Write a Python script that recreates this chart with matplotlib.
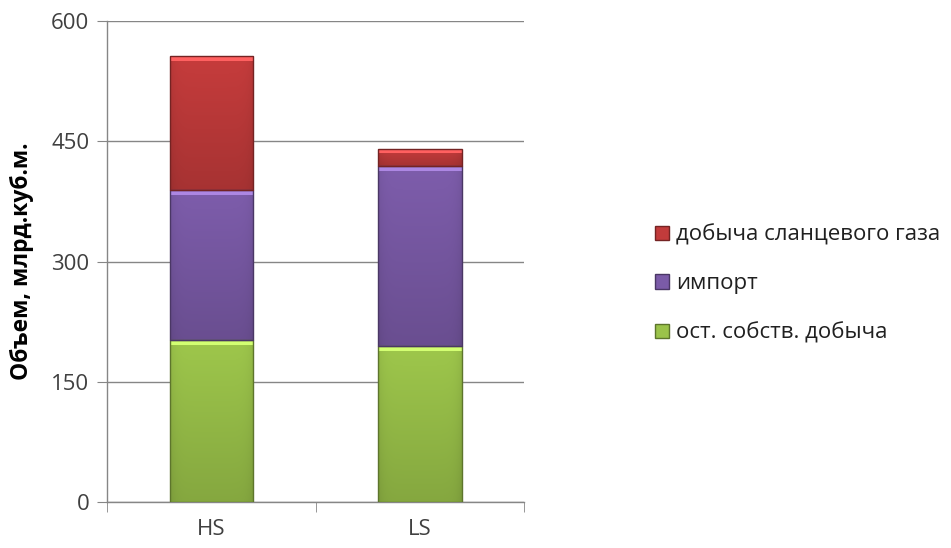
import numpy as np
import matplotlib
matplotlib.use("Agg")
import matplotlib.pyplot as plt
from matplotlib.colors import to_rgb
from matplotlib.patches import Patch

plt.rcParams['font.family'] = ['Open Sans', 'DejaVu Sans']

# Data
categories = ["HS", "LS"]
own_production = [202, 195]     # ост. собств. добыча
imports = [187, 224]            # импорт
shale_gas = [167, 22]           # добыча сланцевого газа

series_labels = ["ост. собств. добыча", "импорт", "добыча сланцевого газа"]
series_colors = ["#9BC34A", "#7B5BA8", "#C23B3B"]
yticks = [0, 150, 300, 450, 600]

fig = plt.figure(figsize=(9.51, 5.48), dpi=100)
ax = fig.add_axes([0.1128, 0.0834, 0.4384, 0.8783])

x = np.arange(len(categories))
width = 0.4
bottom = np.zeros(len(categories))
handles = []
for vals, color, lab in zip([own_production, imports, shale_gas], series_colors, series_labels):
    bars = ax.bar(x, vals, width, bottom=bottom, color=color, edgecolor="none",
                  zorder=3, label=lab)
    base = np.array(to_rgb(color))
    for b in bars:
        x0, y0 = b.get_x(), b.get_y()
        w, h = b.get_width(), b.get_height()
        # shading: lighter near the top, darker near the bottom, darker sides
        t = np.linspace(0, 1, 64)[:, None]          # 0 = bottom, 1 = top
        s = np.linspace(-1, 1, 32)[None, :]
        shade = 0.86 + 0.16 * t - 0.06 * s ** 8
        img = np.clip(base[None, None, :] * shade[:, :, None], 0, 1)
        im = ax.imshow(img, extent=[x0, x0 + w, y0, y0 + h], origin="lower",
                       aspect="auto", zorder=3.5, interpolation="bilinear")
        im.set_clip_path(b)
        # bevel strip on top
        ax.fill_between([x0, x0 + w], y0 + h - min(6, h * 0.25), y0 + h,
                        color=np.clip(base * 1.2 + 0.1, 0, 1), zorder=3.6, lw=0)
        ax.add_patch(plt.Rectangle((x0, y0), w, h, fill=False,
                                   edgecolor=base * 0.6, lw=1.0, zorder=3.7))
    handles.append(Patch(facecolor=color, edgecolor=base * 0.6))
    bottom += np.array(vals)

ax.set_xlim(-0.5, 1.5)
ax.set_ylim(0, 600)
ax.set_yticks(yticks)
ax.set_yticklabels([str(v) for v in yticks], fontsize=16, color="#404040")
ax.set_xticks(x)
ax.set_xticklabels(categories, fontsize=16, color="#404040")
ax.set_xticks([-0.5, 0.5, 1.5], minor=True)
ax.tick_params(axis="x", which="major", length=0, pad=12)
ax.tick_params(axis="x", which="minor", length=7, color="#868686", direction="out")
ax.tick_params(axis="y", length=7, color="#868686", direction="out", pad=6)

ax.grid(axis="y", color="#868686", lw=1.0, zorder=0)
for side in ["top", "right"]:
    ax.spines[side].set_visible(False)
for side in ["left", "bottom"]:
    ax.spines[side].set_color("#868686")
    ax.spines[side].set_linewidth(1.0)

ax.set_ylabel("Объем, млрд.куб.м.", fontsize=16.5, fontweight="bold", labelpad=12)

leg = fig.legend(handles[::-1], series_labels[::-1], loc="center left",
                 bbox_to_anchor=(0.689, 0.482), frameon=False, fontsize=16,
                 handlelength=0.6, handleheight=0.6, handletextpad=0.35,
                 labelspacing=1.25, labelcolor="#202020", borderaxespad=0,
                 borderpad=0)

fig.savefig("out.png", dpi=100)
